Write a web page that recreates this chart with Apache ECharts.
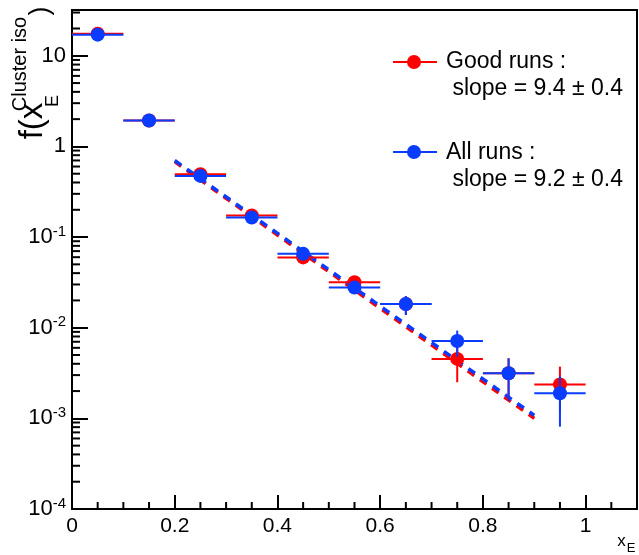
<!DOCTYPE html>
<html>
<head>
<meta charset="utf-8">
<script src="https://cdn.jsdelivr.net/npm/echarts@6/dist/echarts.min.js"></script>
<style>
html,body{margin:0;padding:0;background:#fff;}
#c{width:639px;height:555px;}
</style>
</head>
<body>
<div id="c"></div>
<script>
// ---- data ----
var binCenters = [0.05, 0.15, 0.25, 0.35, 0.45, 0.55, 0.65, 0.75, 0.85, 0.95];
var binHalfWidth = 0.05;
// Good runs (red)
var goodY  = [17.5, 1.93, 0.494, 0.173, 0.0597, 0.0318, 0.0183, 0.00453, 0.00315, 0.00236];
var goodLo = [17.1, 1.89, 0.483, 0.168, 0.0580, 0.0305, 0.0138, 0.00250, 0.00156, 0.00120];
var goodHi = [17.9, 1.97, 0.505, 0.178, 0.0615, 0.0331, 0.0224, 0.00660, 0.00460, 0.00372];
// All runs (blue)
var allY  = [17.1, 1.93, 0.473, 0.164, 0.0653, 0.0277, 0.0183, 0.00714, 0.00315, 0.00189];
var allLo = [16.8, 1.90, 0.464, 0.160, 0.0635, 0.0266, 0.0138, 0.00480, 0.00156, 0.00081];
var allHi = [17.4, 1.96, 0.482, 0.168, 0.0671, 0.0289, 0.0224, 0.00930, 0.00460, 0.00290];
// exponential fits (straight lines on the log axis), end points
var goodFit = [[0.2, 0.68], [0.9, 0.00100]];
var allFit  = [[0.2, 0.70], [0.9, 0.00108]];
// axis ticks
var xMajorTicks = [0, 0.2, 0.4, 0.6, 0.8, 1.0];
var xMinorTicks = [0.05, 0.1, 0.15, 0.25, 0.3, 0.35, 0.45, 0.5, 0.55, 0.65, 0.7, 0.75, 0.85, 0.9, 0.95, 1.05];
var yMajorTicks = [1e-4, 1e-3, 1e-2, 1e-1, 1, 10];
var yMinorMantissas = [2, 3, 4, 5, 6, 7, 8, 9];
var legendLabels = [['Good runs :', ' slope = 9.4 \u00b1 0.4'], ['All runs :', ' slope = 9.2 \u00b1 0.4']];

var RED = '#ff0000', BLUE = '#0a3cff';
var FONT = '"Liberation Sans", Arial, Helvetica, sans-serif';

var yMinorTicks = [];
yMajorTicks.forEach(function (d) {
  yMinorMantissas.forEach(function (m) {
    var v = d * m;
    if (v <= 32) yMinorTicks.push(v);
  });
});

function errData(ys, lo, hi) {
  return binCenters.map(function (x, i) { return [x, ys[i], lo[i], hi[i]]; });
}
function errRender(color) {
  return function (params, api) {
    var x = api.value(0), y = api.value(1), lo = api.value(2), hi = api.value(3);
    var a = api.coord([x - binHalfWidth, y]);
    var b = api.coord([x + binHalfWidth, y]);
    var c = api.coord([x, lo]);
    var d = api.coord([x, hi]);
    var st = {stroke: color, lineWidth: 2};
    return {type: 'group', children: [
      {type: 'line', shape: {x1: a[0], y1: a[1], x2: b[0], y2: b[1]}, style: st},
      {type: 'line', shape: {x1: c[0], y1: c[1], x2: d[0], y2: d[1]}, style: st}
    ]};
  };
}

var chart = echarts.init(document.getElementById('c'), null, {renderer: 'canvas'});
var option = {
  animation: false,
  backgroundColor: '#fff',
  grid: {left: 72, right: 2, top: 10, bottom: 46, show: true, borderColor: '#000', borderWidth: 2, backgroundColor: 'transparent'},
  xAxis: {
    type: 'value', min: 0, max: 1.1, interval: 0.2,
    axisLine: {lineStyle: {color: '#000', width: 2}},
    axisTick: {inside: true, length: 14, lineStyle: {color: '#000', width: 2}, customValues: xMajorTicks},
    axisLabel: {color: '#000', fontSize: 21, fontFamily: FONT, margin: 7, customValues: xMajorTicks,
      formatter: function (v) { return (v === 0 || v === 1) ? String(v) : v.toFixed(1); }},
    splitLine: {show: false}
  },
  yAxis: {
    type: 'log', logBase: 10, min: 1e-4, max: 32,
    axisLine: {lineStyle: {color: '#000', width: 2}},
    axisTick: {inside: true, length: 16, lineStyle: {color: '#000', width: 2}, customValues: yMajorTicks},
    axisLabel: {color: '#000', fontSize: 22, fontFamily: FONT, margin: 6, customValues: yMajorTicks,
      formatter: function (v) {
        var e = Math.round(Math.log10(v));
        if (e === 0) return '1';
        if (e === 1) return '10';
        return '10{s|' + e + '}';
      },
      rich: {s: {fontSize: 15, fontFamily: FONT, color: '#000', verticalAlign: 'bottom', padding: [0, 0, 11, 0]}}
    },
    splitLine: {show: false}
  },
  series: [
    {type: 'custom', name: 'yminor', silent: true, z: 1,
      data: yMinorTicks.map(function (v) { return [0, v]; }),
      renderItem: function (params, api) {
        var p = api.coord([0, api.value(1)]);
        return {type: 'line', shape: {x1: p[0], y1: p[1], x2: p[0] + 8, y2: p[1]}, style: {stroke: '#000', lineWidth: 2}};
      }},
    {type: 'custom', name: 'xminor', silent: true, z: 1,
      data: xMinorTicks.map(function (v) { return [v, 1e-4]; }),
      renderItem: function (params, api) {
        var p = api.coord([api.value(0), 1e-4]);
        return {type: 'line', shape: {x1: p[0], y1: p[1], x2: p[0], y2: p[1] - 7}, style: {stroke: '#000', lineWidth: 2}};
      }},
    {type: 'line', name: 'goodFit', data: goodFit, symbol: 'none', z: 2,
      lineStyle: {color: RED, width: 3.5, type: [8, 7]}},
    {type: 'line', name: 'allFit', data: allFit, symbol: 'none', z: 3,
      lineStyle: {color: BLUE, width: 3.5, type: [8, 7]}},
    {type: 'custom', name: 'goodErr', data: errData(goodY, goodLo, goodHi), renderItem: errRender(RED), z: 4},
    {type: 'scatter', name: 'Good runs', data: binCenters.map(function (x, i) { return [x, goodY[i]]; }),
      symbol: 'circle', symbolSize: 14, itemStyle: {color: RED, opacity: 1}, z: 5},
    {type: 'custom', name: 'allErr', data: errData(allY, allLo, allHi), renderItem: errRender(BLUE), z: 6},
    {type: 'scatter', name: 'All runs', data: binCenters.map(function (x, i) { return [x, allY[i]]; }),
      symbol: 'circle', symbolSize: 14, itemStyle: {color: BLUE, opacity: 1}, z: 7}
  ],
  graphic: [
    // legend
    {type: 'line', shape: {x1: 393, y1: 62, x2: 437, y2: 62}, style: {stroke: RED, lineWidth: 2}},
    {type: 'circle', shape: {cx: 414, cy: 62, r: 7}, style: {fill: RED}},
    {type: 'text', x: 446, y: 62, style: {text: legendLabels[0][0], font: '23px ' + FONT, fill: '#000', textVerticalAlign: 'middle'}},
    {type: 'text', x: 446, y: 89, style: {text: legendLabels[0][1], font: '23px ' + FONT, fill: '#000', textVerticalAlign: 'middle'}},
    {type: 'line', shape: {x1: 393, y1: 152, x2: 437, y2: 152}, style: {stroke: BLUE, lineWidth: 2}},
    {type: 'circle', shape: {cx: 414, cy: 152, r: 7}, style: {fill: BLUE}},
    {type: 'text', x: 446, y: 153, style: {text: legendLabels[1][0], font: '23px ' + FONT, fill: '#000', textVerticalAlign: 'middle'}},
    {type: 'text', x: 446, y: 180, style: {text: legendLabels[1][1], font: '23px ' + FONT, fill: '#000', textVerticalAlign: 'middle'}},
    // y axis title f(x_E^{Cluster iso})
    {type: 'text', x: 33, y: 121, rotation: Math.PI / 2, style: {text: 'f(x', font: '33px ' + FONT, fill: '#000', textAlign: 'center', textVerticalAlign: 'middle'}},
    {type: 'text', x: 53, y: 101, rotation: Math.PI / 2, style: {text: 'E', font: '18px ' + FONT, fill: '#000', textAlign: 'center', textVerticalAlign: 'middle'}},
    {type: 'text', x: 20, y: 64, rotation: Math.PI / 2, style: {text: 'Cluster iso', font: '20px ' + FONT, fill: '#000', textAlign: 'center', textVerticalAlign: 'middle'}},
    {type: 'text', x: 41, y: 11, rotation: Math.PI / 2, style: {text: ')', font: '27px ' + FONT, fill: '#000', textAlign: 'center', textVerticalAlign: 'middle'}},
    // x axis title x_E
    {type: 'text', x: 621.5, y: 541, style: {text: 'x', font: '17px ' + FONT, fill: '#000', textAlign: 'center', textVerticalAlign: 'middle'}},
    {type: 'text', x: 631, y: 548, style: {text: 'E', font: '13px ' + FONT, fill: '#000', textAlign: 'center', textVerticalAlign: 'middle'}}
  ]
};
chart.setOption(option);
</script>
</body>
</html>
